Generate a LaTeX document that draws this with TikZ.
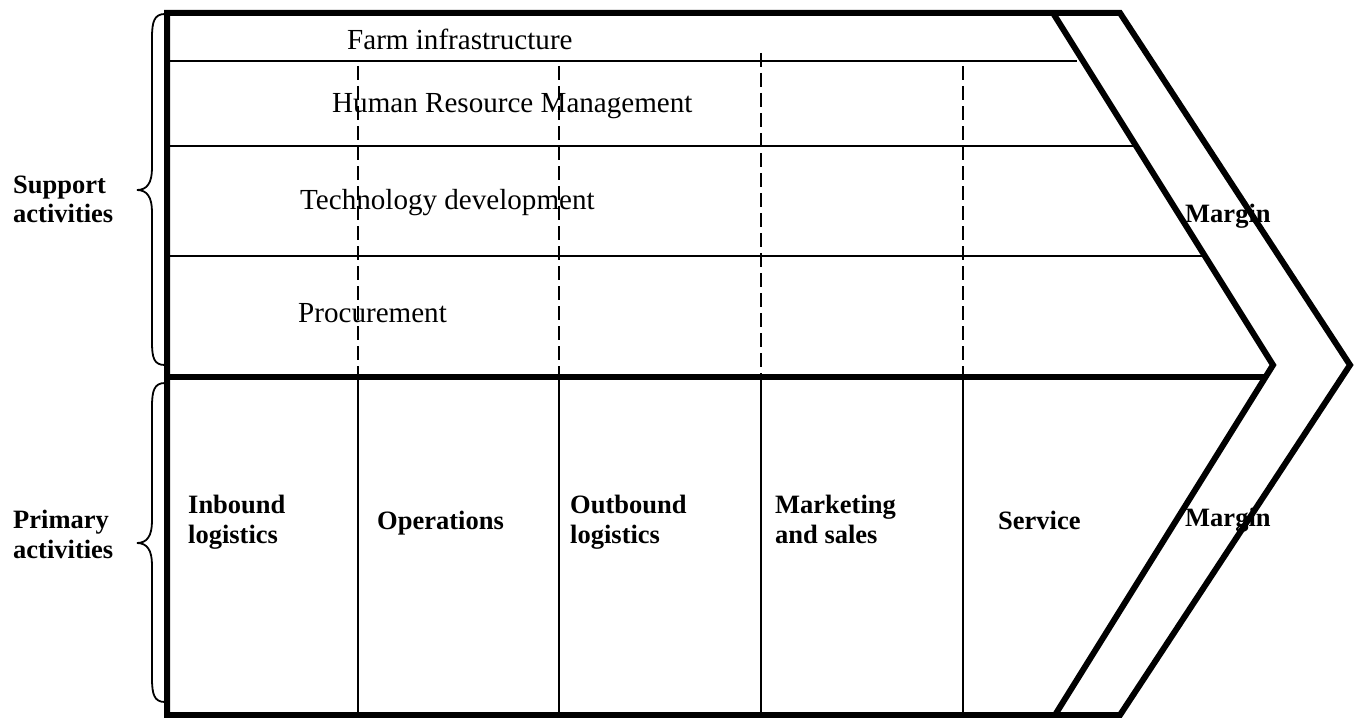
\documentclass[tikz,border=0pt]{standalone}
\usepackage{fontspec}
\setmainfont{Liberation Serif}
\begin{document}
\begin{tikzpicture}[x=1bp,y=-1bp,
  frame/.style={line width=6bp, line join=miter},
  rule/.style={line width=2bp},
  dividerline/.style={line width=1.7bp, dash pattern=on 14bp off 6bp},
  colline/.style={line width=1.8bp},
  bracepath/.style={line width=1.8bp},
  lbl/.style={anchor=base west, inner sep=0pt, font=\fontsize{29.2}{35}\selectfont},
  boldlbl/.style={anchor=base west, inner sep=0pt, font=\fontsize{26.6}{32}\selectfont\bfseries},
]
\useasboundingbox (0,0) rectangle (1359,717);

% key points of the value-chain outline
\coordinate (tl)   at (167,13);
\coordinate (ot)   at (1120,13);
\coordinate (otip) at (1350,365);
\coordinate (ob)   at (1120,715);
\coordinate (bl)   at (167,715);
\coordinate (it)   at (1053,13);
\coordinate (itip) at (1273,365);
\coordinate (ib)   at (1055,715);

% support-activity rows
\draw[rule] (170,61) -- (1077,61);
\draw[rule] (170,146) -- (1134,146);
\draw[rule] (170,256) -- (1203,256);

% dashed column guides through the support rows
\draw[dividerline] (358,66) -- (358,377);
\draw[dividerline] (559,66) -- (559,377);
\draw[dividerline] (761,53) -- (761,377);
\draw[dividerline] (963,66) -- (963,377);

% primary-activity columns
\draw[colline] (358,377) -- (358,715);
\draw[colline] (559,377) -- (559,715);
\draw[colline] (761,377) -- (761,715);
\draw[colline] (963,377) -- (963,715);

% outline, split between support and primary, and the margin band
\draw[frame] (tl) -- (ot) -- (otip) -- (ob) -- (bl) -- cycle;
\draw[frame] (167,377) -- (1266,377);
\draw[frame] (it) -- (itip) -- (ib);

% braces
\draw[bracepath] (165,14) .. controls (154,14) and (152,22) .. (152,38)
  -- (152,168) .. controls (152,183) and (147,190) .. (137,190)
  .. controls (147,190) and (152,197) .. (152,212)
  -- (152,342) .. controls (152,358) and (154,365) .. (165,365);
\draw[bracepath] (165,383) .. controls (154,383) and (152,391) .. (152,407)
  -- (152,521) .. controls (152,536) and (147,543) .. (137,543)
  .. controls (147,543) and (152,550) .. (152,565)
  -- (152,678) .. controls (152,694) and (154,702) .. (165,702);

% support activity labels
\node[lbl] (farm) at (347,50)  {Farm infrastructure};
\node[lbl] (hrm)  at (332,113) {Human Resource Management};
\node[lbl] (tech) at (300,209) {Technology development};
\node[lbl] (proc) at (298,322) {Procurement};

% group labels
\node[boldlbl] (sup1) at (13,193) {Support};
\node[boldlbl] (sup2) at (13,222) {activities};
\node[boldlbl] (pri1) at (13,528) {Primary};
\node[boldlbl] (pri2) at (13,558) {activities};

% primary activity labels
\node[boldlbl] (inb1) at (188,513) {Inbound};
\node[boldlbl] (inb2) at (188,543) {logistics};
\node[boldlbl] (ops)  at (377,529) {Operations};
\node[boldlbl] (out1) at (570,513) {Outbound};
\node[boldlbl] (out2) at (570,543) {logistics};
\node[boldlbl] (mkt1) at (775,513) {Marketing};
\node[boldlbl] (mkt2) at (775,543) {and sales};
\node[boldlbl] (serv) at (998,529) {Service};

% margin labels
\node[boldlbl] (mar1) at (1185,222) {Margin};
\node[boldlbl] (mar2) at (1185,526) {Margin};
\end{tikzpicture}
\end{document}
